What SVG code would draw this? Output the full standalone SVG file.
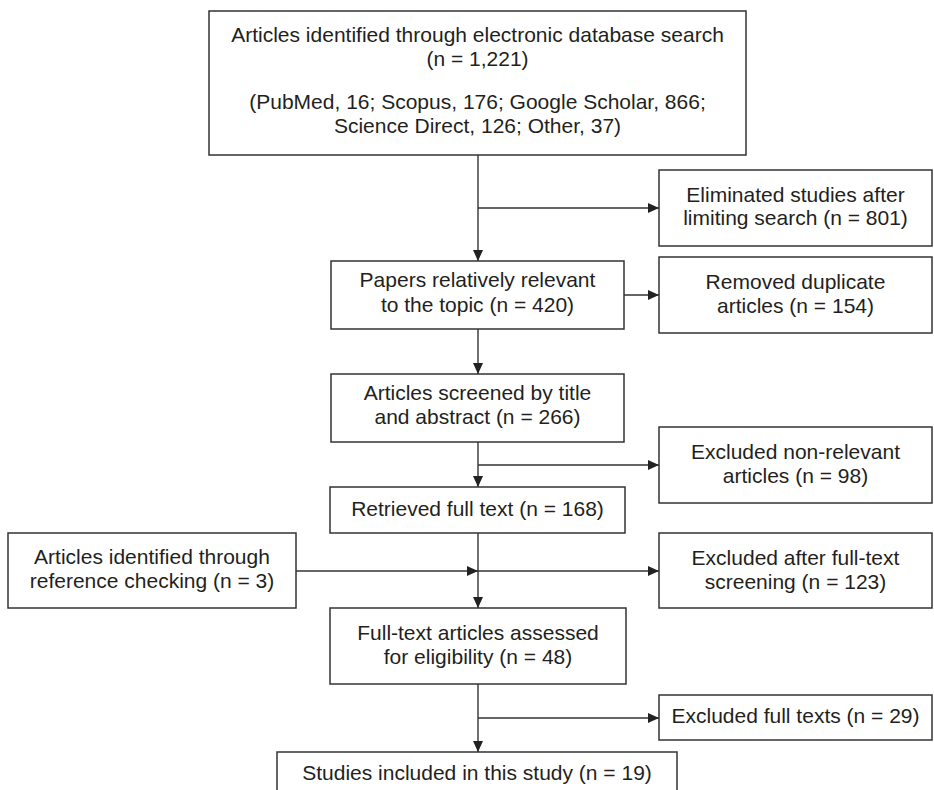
<svg xmlns="http://www.w3.org/2000/svg" width="934" height="790" viewBox="0 0 934 790">
<defs>
<style>
.box{fill:#fff;stroke:#333;stroke-width:1.5}
.t{font-family:"Liberation Sans",Arial,sans-serif;font-size:21px;fill:#231f20;text-anchor:middle}
.c{fill:none;stroke:#333;stroke-width:1.4}
</style>
<marker id="ah" markerUnits="userSpaceOnUse" markerWidth="11" markerHeight="10" refX="11" refY="5" orient="auto">
<path d="M0,0 L11,5 L0,10 z" fill="#222"/>
</marker>
</defs>
<rect width="934" height="790" fill="#fff"/>
<g id="connectors">
<line class="c" x1="478" y1="155" x2="478" y2="261" marker-end="url(#ah)"/>
<line class="c" x1="478" y1="208" x2="659" y2="208" marker-end="url(#ah)"/>
<line class="c" x1="624" y1="295" x2="659" y2="295" marker-end="url(#ah)"/>
<line class="c" x1="478" y1="329" x2="478" y2="374" marker-end="url(#ah)"/>
<line class="c" x1="478" y1="442" x2="478" y2="487" marker-end="url(#ah)"/>
<line class="c" x1="478" y1="465" x2="659" y2="465" marker-end="url(#ah)"/>
<line class="c" x1="478" y1="533" x2="478" y2="608" marker-end="url(#ah)"/>
<line class="c" x1="296" y1="571" x2="478" y2="571" marker-end="url(#ah)"/>
<line class="c" x1="478" y1="571" x2="659" y2="571" marker-end="url(#ah)"/>
<line class="c" x1="478" y1="684" x2="478" y2="752" marker-end="url(#ah)"/>
<line class="c" x1="478" y1="718" x2="659" y2="718" marker-end="url(#ah)"/>
</g>
<g id="n-search">
<rect class="box" x="209" y="11" width="537" height="144"/>
<text class="t" x="477.5" y="42">Articles identified through electronic database search</text>
<text class="t" x="477.5" y="66">(n = 1,221)</text>
<text class="t" x="477.5" y="109">(PubMed, 16; Scopus, 176; Google Scholar, 866;</text>
<text class="t" x="477.5" y="133">Science Direct, 126; Other, 37)</text>
</g>
<g id="n-eliminated">
<rect class="box" x="659" y="170" width="273" height="76"/>
<text class="t" x="795.5" y="202">Eliminated studies after</text>
<text class="t" x="795.5" y="225">limiting search (n = 801)</text>
</g>
<g id="n-papers">
<rect class="box" x="331" y="261" width="293" height="68"/>
<text class="t" x="477.5" y="287">Papers relatively relevant</text>
<text class="t" x="477.5" y="312">to the topic (n = 420)</text>
</g>
<g id="n-removed">
<rect class="box" x="659" y="257" width="273" height="76"/>
<text class="t" x="795.5" y="289">Removed duplicate</text>
<text class="t" x="795.5" y="313">articles (n = 154)</text>
</g>
<g id="n-screened">
<rect class="box" x="331" y="374" width="293" height="68"/>
<text class="t" x="477.5" y="400">Articles screened by title</text>
<text class="t" x="477.5" y="424">and abstract (n = 266)</text>
</g>
<g id="n-nonrelevant">
<rect class="box" x="659" y="427" width="273" height="76"/>
<text class="t" x="795.5" y="459">Excluded non-relevant</text>
<text class="t" x="795.5" y="483">articles (n = 98)</text>
</g>
<g id="n-retrieved">
<rect class="box" x="330" y="487" width="295" height="46"/>
<text class="t" x="477.5" y="516">Retrieved full text (n = 168)</text>
</g>
<g id="n-reference">
<rect class="box" x="8" y="533" width="288" height="75"/>
<text class="t" x="152" y="564">Articles identified through</text>
<text class="t" x="152" y="588">reference checking (n = 3)</text>
</g>
<g id="n-fulltextexcl">
<rect class="box" x="659" y="533" width="273" height="75"/>
<text class="t" x="795.5" y="565">Excluded after full-text</text>
<text class="t" x="795.5" y="589">screening (n = 123)</text>
</g>
<g id="n-eligibility">
<rect class="box" x="330" y="608" width="296" height="76"/>
<text class="t" x="478" y="640">Full-text articles assessed</text>
<text class="t" x="478" y="664">for eligibility (n = 48)</text>
</g>
<g id="n-excludedfull">
<rect class="box" x="659" y="695" width="273" height="45"/>
<text class="t" x="795.5" y="723">Excluded full texts (n = 29)</text>
</g>
<g id="n-included">
<rect class="box" x="277" y="752" width="400" height="50"/>
<text class="t" x="477" y="780">Studies included in this study (n = 19)</text>
</g>
</svg>
